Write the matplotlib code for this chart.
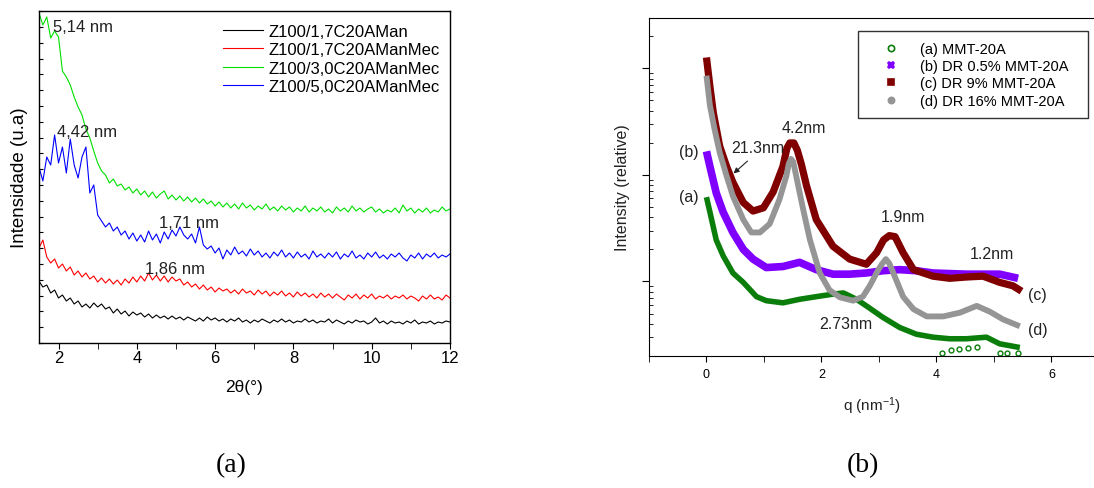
import numpy as np
import matplotlib
matplotlib.use('Agg')
import matplotlib.pyplot as plt
from matplotlib.ticker import MultipleLocator, NullFormatter, LogLocator, FixedLocator

plt.rcParams['font.family'] = ['Liberation Sans', 'DejaVu Sans']
plt.rcParams['mathtext.default'] = 'regular'

# --- panel (a): XRD, intensity in arbitrary units ---
two_theta = np.linspace(1.5, 12.0, 106)

i_man = [62, 56, 58, 50, 53, 45, 48, 42, 45, 39,
         42, 36, 39, 35, 40, 36, 39, 34, 36, 30,
         34, 29, 32, 27, 31, 28, 30, 26, 29, 25,
         28, 25, 27, 24, 27, 24, 26, 23, 26, 24,
         22, 25, 22, 26, 23, 25, 22, 24, 21, 24,
         22, 25, 21, 23, 20, 23, 21, 24, 22, 20,
         23, 21, 24, 21, 23, 20, 22, 21, 24, 21,
         23, 20, 22, 21, 24, 20, 23, 21, 19, 22,
         20, 23, 21, 22, 19, 21, 25, 20, 22, 19,
         22, 20, 21, 19, 22, 20, 23, 19, 21, 20,
         22, 19, 21, 20, 22, 21]
i_17mec = [95, 103, 86, 80, 84, 75, 79, 72, 76, 68,
           72, 66, 70, 64, 67, 61, 65, 60, 64, 59,
           63, 58, 64, 60, 66, 61, 67, 62, 70, 63,
           68, 62, 67, 61, 66, 62, 64, 58, 61, 56,
           59, 54, 58, 53, 56, 51, 55, 52, 54, 50,
           53, 49, 54, 50, 52, 48, 53, 49, 52, 47,
           51, 48, 52, 47, 50, 46, 51, 47, 50, 46,
           49, 45, 50, 46, 49, 45, 49, 46, 43, 48,
           45, 49, 44, 48, 45, 49, 44, 47, 45, 48,
           44, 47, 45, 48, 44, 47, 45, 42, 47, 44,
           48, 44, 46, 43, 48, 45]
i_30mec = [330, 318, 326, 305, 312, 306, 272, 266, 258, 246,
           236, 228, 214, 205, 192, 180, 172, 168, 160, 164,
           157, 159, 153, 156, 150, 154, 148, 152, 146, 151,
           145, 149, 152, 144, 148, 143, 147, 142, 146, 141,
           145, 140, 144, 139, 142, 137, 141, 136, 140, 135,
           139, 134, 140, 135, 138, 133, 137, 134, 139, 133,
           136, 132, 137, 133, 136, 131, 135, 132, 137, 131,
           135, 132, 136, 131, 134, 130, 136, 132, 135, 131,
           137, 132, 135, 131, 134, 136, 131, 134, 130, 133,
           131, 135, 130, 138, 132, 135, 130, 134, 131, 135,
           130, 133, 131, 136, 132, 134]
i_50mec = [176, 162, 186, 178, 208, 180, 196, 170, 204, 178,
           165, 186, 196, 150, 158, 128, 122, 116, 120, 112,
           116, 108, 112, 104, 110, 102, 108, 101, 112, 103,
           109, 100, 111, 104, 113, 107, 116, 108, 104, 109,
           100, 116, 98, 94, 97, 90, 95, 84, 93, 88,
           96, 89, 92, 87, 94, 88, 92, 86, 90, 85,
           91, 87, 93, 86, 90, 85, 91, 86, 89, 84,
           92, 86, 89, 85, 90, 86, 91, 84, 89, 86,
           92, 85, 88, 84, 90, 86, 91, 85, 88, 84,
           89, 86, 90, 85, 82, 88, 85, 90, 84, 89,
           86, 90, 85, 88, 86, 89]

labels_a = ['Z100/1,7C20AMan', 'Z100/1,7C20AManMec',
            'Z100/3,0C20AManMec', 'Z100/5,0C20AManMec']
colors_a = ['black', '#ff0000', '#00e000', '#0000ff']

peaks_a = ['5,14 nm', '4,42 nm', '1,71 nm', '1,86 nm']
peaks_a_x = [1.85, 1.97, 4.56, 4.22]
peaks_a_y = [316, 211, 121, 75]

# --- panel (b): SAXS, relative intensity ---
q_a = [0, 0.06, 0.17, 0.29, 0.46, 0.64, 0.87, 1.04, 1.33, 1.62, 1.91, 2.2,
       2.38, 2.61, 2.78, 3.07, 3.36, 3.65, 3.94, 4.23, 4.52, 4.87, 5.1, 5.45]
int_a = [6.17, 4.47, 2.45, 1.74, 1.20, 0.98, 0.72, 0.66, 0.63, 0.68, 0.72, 0.76,
         0.78, 0.68, 0.59, 0.46, 0.37, 0.32, 0.30, 0.29, 0.29, 0.30, 0.26, 0.24]
q_a_out = [4.10, 4.26, 4.40, 4.54, 4.70, 5.10, 5.23, 5.41]
int_a_out = [0.211, 0.229, 0.234, 0.240, 0.245, 0.211, 0.215, 0.211]

q_b = [0, 0.06, 0.17, 0.29, 0.46, 0.64, 0.81, 1.04, 1.33, 1.62, 1.91, 2.2,
       2.49, 2.78, 3.07, 3.36, 3.65, 3.94, 4.52, 5.1, 5.42]
int_b = [16.6, 12.0, 6.76, 4.47, 2.88, 2.0, 1.62, 1.35, 1.38, 1.51, 1.29, 1.17,
         1.17, 1.20, 1.26, 1.29, 1.26, 1.20, 1.17, 1.17, 1.07]

q_c = [0, 0.06, 0.12, 0.23, 0.35, 0.46, 0.64, 0.81, 0.99, 1.16, 1.33, 1.40,
       1.45, 1.52, 1.58, 1.65, 1.74, 1.91, 2.2, 2.49, 2.78, 2.96, 3.08, 3.18,
       3.28, 3.42, 3.6, 3.94, 4.23, 4.52, 4.81, 5.1, 5.33, 5.48]
int_c = [126, 67.6, 38.0, 18.6, 12.0, 8.5, 5.5, 4.57, 4.9, 6.9, 12.0, 17.8,
         19.9, 19.9, 17.0, 12.6, 7.9, 3.8, 2.14, 1.62, 1.45, 1.86, 2.45, 2.69,
         2.63, 1.86, 1.29, 1.12, 1.07, 1.10, 1.12, 0.98, 0.91, 0.81]

q_d = [0, 0.06, 0.14, 0.23, 0.35, 0.46, 0.64, 0.78, 0.93, 1.1, 1.27, 1.39,
       1.43, 1.47, 1.51, 1.56, 1.68, 1.80, 1.97, 2.14, 2.32, 2.55, 2.72, 2.84,
       2.99, 3.05, 3.12, 3.18, 3.25, 3.42, 3.6, 3.83, 4.12, 4.41, 4.7, 4.93,
       5.16, 5.45]
int_d = [85.1, 44.7, 26.9, 16.2, 9.77, 6.31, 3.80, 2.88, 2.88, 3.47, 5.89, 9.77,
         12.6, 14.1, 13.2, 9.77, 4.79, 2.45, 1.20, 0.83, 0.71, 0.66, 0.72, 0.91,
         1.29, 1.45, 1.62, 1.48, 1.20, 0.72, 0.55, 0.47, 0.47, 0.51, 0.59, 0.52,
         0.44, 0.38]

labels_b = ['(a) MMT-20A', '(b) DR 0.5% MMT-20A', '(c) DR 9% MMT-20A', '(d) DR 16% MMT-20A']

fig = plt.figure(figsize=(10.94, 4.89), dpi=100)

# ---------- (a) ----------
ax1 = fig.add_axes([0.0356, 0.2965, 0.3757, 0.679])
for vals, col, lab in zip([i_man, i_17mec, i_30mec, i_50mec], colors_a, labels_a):
    ax1.plot(two_theta, vals, color=col, lw=0.8, label=lab)
ax1.set_xlim(1.5, 12)
ax1.set_ylim(0, 332)
ax1.xaxis.set_major_locator(MultipleLocator(2))
ax1.xaxis.set_minor_locator(MultipleLocator(1))
ax1.yaxis.set_major_locator(MultipleLocator(15.8))
ax1.tick_params(axis='x', which='both', direction='out', length=4, labelsize=12, pad=1)
ax1.tick_params(axis='y', which='both', direction='in', length=3, labelleft=False)
ax1.set_xlabel('2θ(°)', fontsize=12.5, labelpad=10)
ax1.set_ylabel('Intensidade (u.a)', fontsize=13.5, labelpad=8)
for s in ax1.spines.values():
    s.set_linewidth(1.0)
for t, x, y in zip(peaks_a, peaks_a_x, peaks_a_y):
    ax1.text(x, y, t, fontsize=12, ha='left', va='center', color='#222222')
ax1.legend(loc='upper right', bbox_to_anchor=(0.992, 0.981), borderaxespad=0,
           frameon=False, fontsize=12, handlelength=2.4, handletextpad=0.36,
           labelspacing=0.2)

# ---------- (b) ----------
ax2 = fig.add_axes([0.5932, 0.27, 0.4068, 0.691])
ax2.set_yscale('log')
series_b = [(q_a, int_a, '#0a7d0a', 'o', 4.0, 'white'),
            (q_b, int_b, '#8000ff', 'X', 5.5, '#8000ff'),
            (q_c, int_c, '#800000', 's', 5.2, '#800000'),
            (q_d, int_d, '#959595', 'o', 4.2, '#959595')]
for (q, inten, col, mk, lw, mfc), lab in zip(series_b, labels_b):
    ax2.plot(q, inten, color=col, lw=lw, solid_capstyle='butt',
             solid_joinstyle='round')
    # marker-only handle for the legend
    ax2.plot([], [], ls='none', marker=mk, ms=4.5, color=col, mfc=mfc,
             mew=1.2, label=lab)
ax2.plot(q_a_out, int_a_out, ls='none', marker='o', ms=3.5, mfc='white',
         color='#0a7d0a', mew=1.0)
ax2.set_xlim(-1, 6.74)
ax2.set_ylim(0.2, 295)
ax2.spines['right'].set_visible(False)
ax2.xaxis.set_major_locator(FixedLocator([0, 2, 4, 6]))
ax2.xaxis.set_minor_locator(FixedLocator([-1, 1, 3, 5]))
ax2.yaxis.set_major_locator(LogLocator(base=10))
ax2.yaxis.set_minor_locator(LogLocator(base=10, subs=np.arange(2, 10)))
ax2.yaxis.set_major_formatter(NullFormatter())
ax2.yaxis.set_minor_formatter(NullFormatter())
ax2.tick_params(axis='x', which='both', direction='out', length=4, labelsize=9, pad=5)
ax2.tick_params(axis='y', which='major', direction='out', length=5)
ax2.tick_params(axis='y', which='minor', direction='in', length=3)
ax2.set_xlabel('q (nm$^{-1}$)', fontsize=11, labelpad=10, color='#222222')
ax2.set_ylabel('Intensity (relative)', fontsize=11.5, labelpad=5, color='#222222')

notes_b = ['(a)', '(b)', '21.3nm', '4.2nm', '1.9nm', '1.2nm', '2.73nm', '(c)', '(d)']
notes_b_q = [-0.30, -0.30, 0.90, 1.69, 3.41, 4.97, 2.43, 5.76, 5.76]
notes_b_i = [6.3, 16.6, 18.1, 27.9, 4.08, 1.83, 0.403, 0.755, 0.355]
for t, x, y in zip(notes_b, notes_b_q, notes_b_i):
    ax2.text(x, y, t, fontsize=11.5, ha='center', va='center', color='#222222')
ax2.annotate('', xy=(0.435, 9.9), xytext=(0.75, 14.0),
             arrowprops=dict(arrowstyle='-|>', color='#222222', lw=0.8,
                             mutation_scale=8))
ax2.legend(loc='upper left', bbox_to_anchor=(0.4697, 0.695, 0.517, 0.2665),
           mode='expand', borderaxespad=0, fancybox=False, edgecolor='#333333',
           framealpha=1, fontsize=10.5, handlelength=3.0, handletextpad=0.5,
           borderpad=0.73, labelspacing=0.23, numpoints=1)

fig.text(231 / 1094, 1 - 466 / 489, '(a)', family='Liberation Serif', fontsize=20,
         ha='center', va='center')
fig.text(863 / 1094, 1 - 466 / 489, '(b)', family='Liberation Serif', fontsize=20,
         ha='center', va='center')

fig.savefig('out.png', dpi=100)
